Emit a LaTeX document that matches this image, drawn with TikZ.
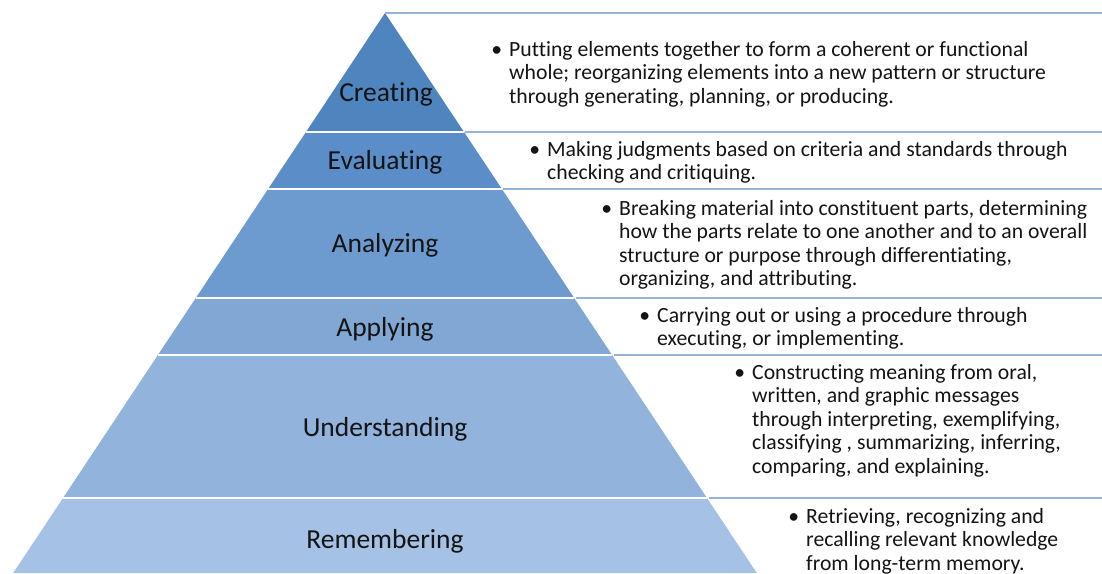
\documentclass[tikz,border=0pt]{standalone}
\usepackage{fontspec}
\setmainfont[Ligatures=NoCommon]{Carlito}
\definecolor{cCre}{RGB}{79,133,191}
\definecolor{cEva}{RGB}{91,141,200}
\definecolor{cAna}{RGB}{109,155,208}
\definecolor{cApp}{RGB}{129,168,213}
\definecolor{cUnd}{RGB}{146,179,220}
\definecolor{cRem}{RGB}{165,193,229}
\definecolor{sepblue}{RGB}{149,179,215}
\definecolor{txt}{RGB}{20,20,20}
\tikzset{
  wsep/.style={draw=white,line width=2pt},
  bsep/.style={draw=sepblue,line width=1.5pt},
  lvl/.style={font=\fontsize{27.5}{32}\selectfont,text=txt,inner sep=0pt,anchor=base},
  desc/.style={font=\fontsize{21.7}{23.5}\selectfont,text=txt,align=left,anchor=north west,inner sep=0pt},
}
\newcommand{\bul}{\rule{0pt}{18pt}\llap{\textbullet\hspace{7pt}}}
\begin{document}
\begin{tikzpicture}[x=1pt,y=-1pt]
\useasboundingbox (0,0) rectangle (1102,573);
\fill[white] (0,0) rectangle (1102,573);
% pyramid bands
\fill[cCre] (385,13) -- (464,132) -- (306,132) -- cycle;
\fill[cEva] (306,132) -- (464,132) -- (501.9,189) -- (268.1,189) -- cycle;
\fill[cAna] (268.1,189) -- (501.9,189) -- (574.2,298) -- (195.8,298) -- cycle;
\fill[cApp] (195.8,298) -- (574.2,298) -- (612.1,355) -- (157.9,355) -- cycle;
\fill[cUnd] (157.9,355) -- (612.1,355) -- (707,498) -- (63,498) -- cycle;
\fill[cRem] (63,498) -- (707,498) -- (756.8,573) -- (13.2,573) -- cycle;
% white separators
\draw[wsep] (306,132) -- (464,132);
\draw[wsep] (268.1,189) -- (501.9,189);
\draw[wsep] (195.8,298) -- (574.2,298);
\draw[wsep] (157.9,355) -- (612.1,355);
\draw[wsep] (63,498) -- (707,498);
% blue separators in text area
\draw[bsep] (385,13) -- (1102,13);
\draw[bsep] (465,132) -- (1102,132);
\draw[bsep] (503,189) -- (1102,189);
\draw[bsep] (575.5,298) -- (1102,298);
\draw[bsep] (613.5,355) -- (1102,355);
\draw[bsep] (708.5,498) -- (1102,498);
% labels
\node[lvl] (cre) at (386,101.5) {Creating};
\node[lvl] (eva) at (385,169.5) {Evaluating};
\node[lvl] (ana) at (385,252.5) {Analyzing};
\node[lvl] (app) at (385,336.5) {Applying};
\node[lvl] (und) at (385,436.7) {Understanding};
\node[lvl] (rem) at (385,548.5) {Remembering};
% descriptions (first baseline = y + 18)
\node[desc] (dcre) at (509,38) {\bul Putting elements together to form a coherent or functional\\whole; reorganizing elements into a new pattern or structure\\through generating, planning, or producing.};
\node[desc] (deva) at (547,138) {\bul Making judgments based on criteria and standards through\\checking and critiquing.};
\node[desc] (dana) at (619,197) {\bul Breaking material into constituent parts, determining\\how the parts relate to one another and to an overall\\structure or purpose through differentiating,\\organizing, and attributing.};
\node[desc] (dapp) at (657,304) {\bul Carrying out or using a procedure through\\executing, or implementing.};
\node[desc] (dund) at (752,361) {\bul Constructing meaning from oral,\\written, and graphic messages\\through interpreting, exemplifying,\\classifying , summarizing, inferring,\\comparing, and explaining.};
\node[desc] (drem) at (806,505) {\bul Retrieving, recognizing and\\recalling relevant knowledge\\from long-term memory.};
\end{tikzpicture}
\end{document}
